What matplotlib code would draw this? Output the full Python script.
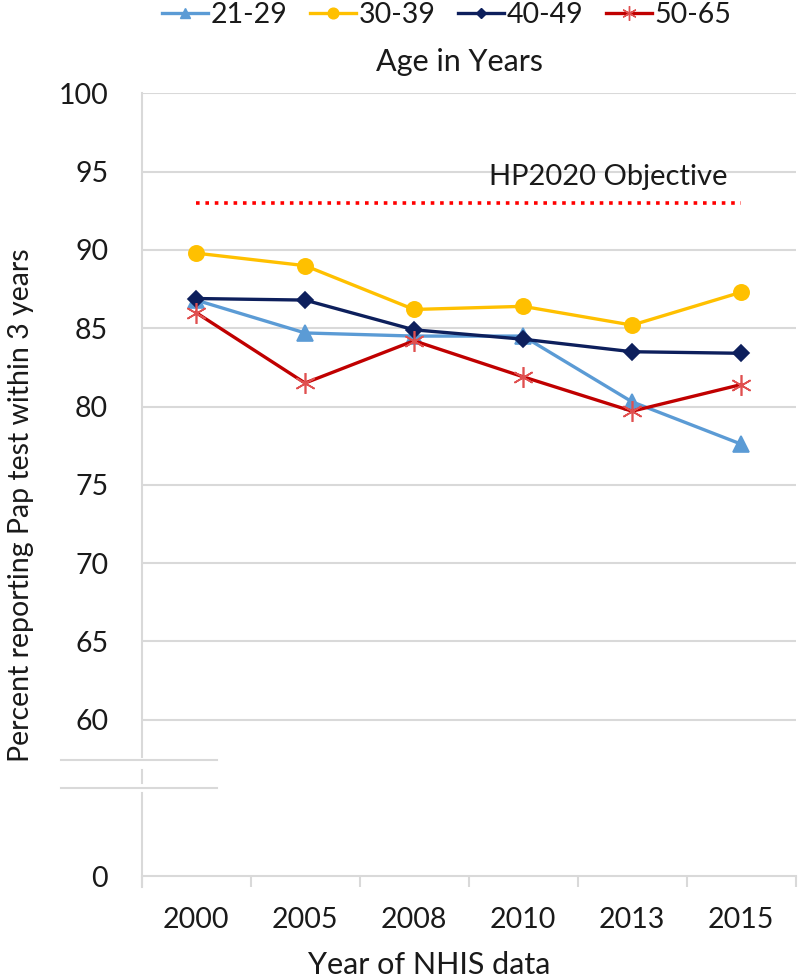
import numpy as np
import matplotlib.pyplot as plt
from matplotlib.lines import Line2D

plt.rcParams['font.family'] = ['Lato', 'DejaVu Sans']

# --- data ---
years = ["2000", "2005", "2008", "2010", "2013", "2015"]
age_21_29 = [86.8, 84.7, 84.5, 84.5, 80.3, 77.6]
age_30_39 = [89.8, 89.0, 86.2, 86.4, 85.2, 87.3]
age_40_49 = [86.9, 86.8, 84.9, 84.3, 83.5, 83.4]
age_50_65 = [86.0, 81.5, 84.2, 81.9, 79.7, 81.4]
hp2020_target = 93.0

y_ticks = [50, 60, 65, 70, 75, 80, 85, 90, 95, 100]
y_tick_labels = ["0", "60", "65", "70", "75", "80", "85", "90", "95", "100"]

GRID = "#D9D9D9"
TXT = "#1a1a1a"

fig = plt.figure(figsize=(8, 9.8), dpi=100)
ax = fig.add_axes([0.1769, 0.1061, 0.8175, 0.7985])

x = np.arange(len(years))
series = [
    ("21-29", age_21_29, "#5B9BD5", "^", 11, "#5B9BD5"),
    ("30-39", age_30_39, "#FFC000", "o", 11, "#FFC000"),
    ("40-49", age_40_49, "#0D1F5C", "D", 8, "#0D1F5C"),
    ("50-65", age_50_65, "#C00000", (6, 2, 0), 15, "#E05050"),
]
handles = []
for name, vals, col, mk, ms, mcol in series:
    ax.plot(x, vals, color=col, lw=2.4, marker=mk, ms=ms,
            mfc=mcol, mec=mcol, mew=1.2, zorder=3)
    handles.append(Line2D([], [], color=col, lw=2.4, marker=mk, ms=ms * 0.7,
                          mfc=mcol, mec=mcol, mew=1.0))

# objective line
ax.plot(x, [hp2020_target] * len(x), color="#FF0000", lw=2.6,
        linestyle=(0, (1, 1.6)), zorder=2)
ax.text(4.88, 94.68, "HP2020 Objective", ha="right", va="center",
        fontsize=21, color=TXT)

ax.set_xlim(-0.5, 5.5)
ax.set_ylim(50, 100)
ax.set_xticks(x)
ax.set_xticklabels(years)
ax.set_xticks(np.arange(-0.5, 6.0, 1.0), minor=True)
ax.set_yticks(y_ticks)
ax.set_yticklabels(y_tick_labels)

for v in y_ticks[1:]:
    ax.axhline(v, color=GRID, lw=1.5, zorder=1)

ax.tick_params(axis="x", which="major", length=0, pad=22, labelsize=20.5, labelcolor=TXT)
ax.tick_params(axis="x", which="minor", length=8, width=1.5, color=GRID, direction="out")
ax.tick_params(axis="y", length=0, pad=24, labelsize=20.5, labelcolor=TXT)

for s in ["top", "right", "left"]:
    ax.spines[s].set_visible(False)
ax.spines["bottom"].set_color(GRID)
ax.spines["bottom"].set_linewidth(1.5)

# broken y axis drawn by hand
for y0, y1 in [(49.3, 55.3), (55.95, 56.75), (57.6, 100)]:
    ax.plot([-0.5, -0.5], [y0, y1], color=GRID, lw=1.5, clip_on=False, zorder=1)
for yb in [57.4, 55.6]:
    ax.plot([-1.243, 0.19], [yb, yb], color=GRID, lw=1.5, clip_on=False, zorder=1)

fig.legend(handles, [s[0] for s in series], loc="center",
           bbox_to_anchor=(447 / 800, 1 - 15 / 980), ncol=4, frameon=False,
           fontsize=20.5, handlelength=1.6, handletextpad=0.1, columnspacing=0.8,
           labelcolor=TXT)
fig.text(460 / 800, 1 - 62 / 980, "Age in Years", ha="center", va="center",
         fontsize=22, color=TXT)
fig.text(21 / 800, 1 - 505 / 980, "Percent reporting Pap test within 3 years",
         rotation=90, ha="center", va="center", fontsize=20.5, color=TXT)
fig.text(429 / 800, 1 - 965 / 980, "Year of NHIS data", ha="center", va="center",
         fontsize=22, color=TXT)

fig.savefig("out.png", dpi=100)
